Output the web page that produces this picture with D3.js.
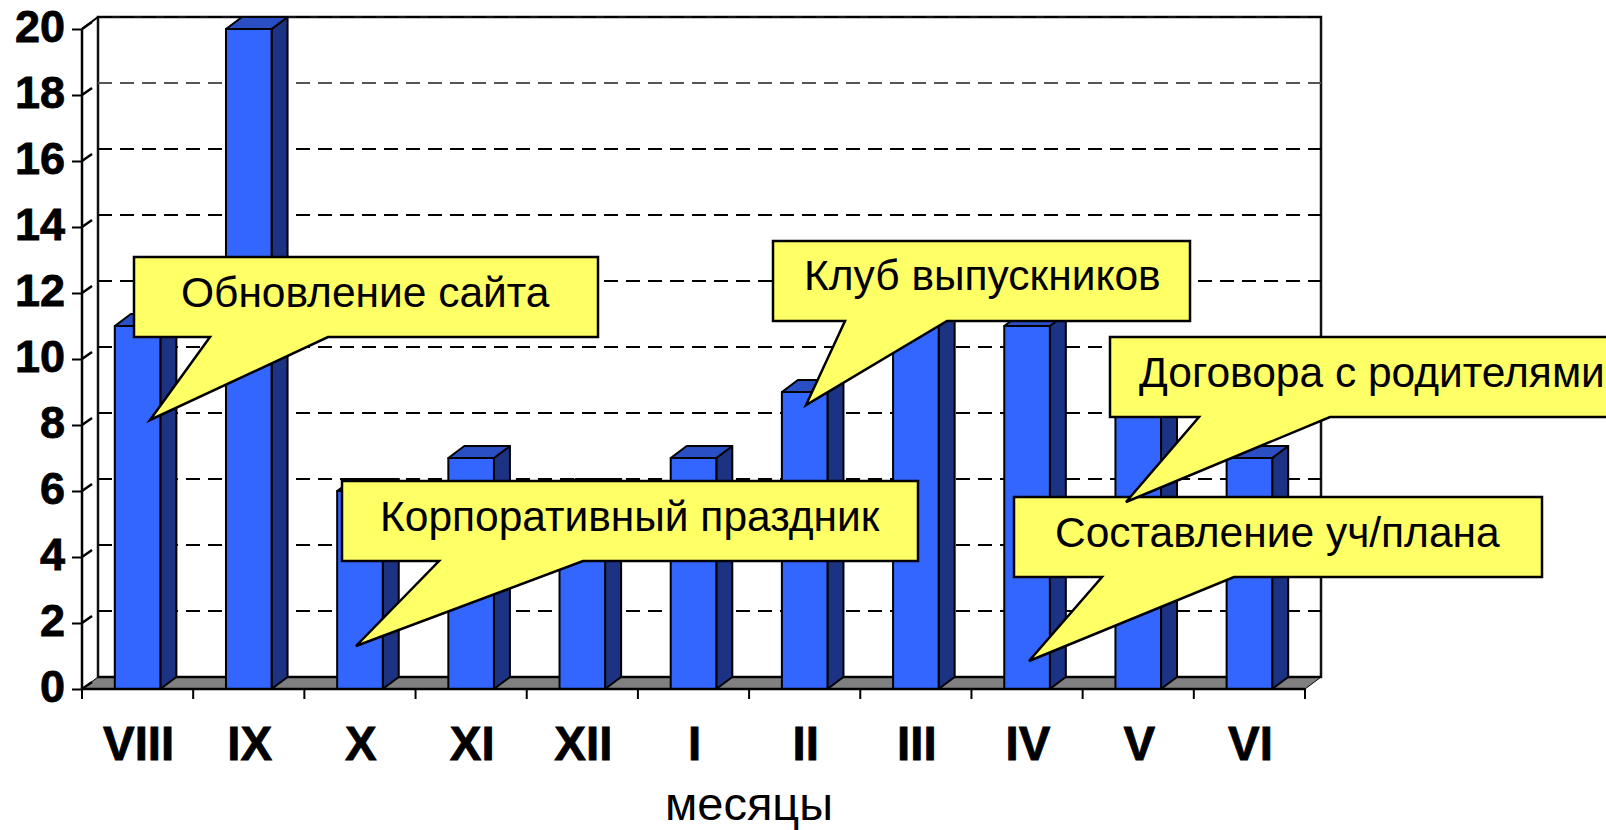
<!DOCTYPE html>
<html>
<head>
<meta charset="utf-8">
<script src="https://cdn.jsdelivr.net/npm/d3@7"></script>
<style>
    html, body { margin: 0; padding: 0; background: #fff; overflow: hidden; }
    text { font-family: "Liberation Sans", Arial, sans-serif; fill: #000; }
    .axis path { display: none; }
    .axis text { font-weight: bold; stroke: #000; stroke-width: 0.8; }
    .axis--y text { font-size: 45px; }
    .axis--x text { font-size: 47.5px; }
    .axis line { stroke: #000; stroke-width: 2; }
    .callout path { fill: #ffff66; stroke: #000; stroke-width: 2.5; stroke-linejoin: miter; }
    .callout text { font-size: 42.5px; }
</style>
</head>
<body>
<div id="chart"></div>
<script>
"use strict";

var months = ["VIII", "IX", "X", "XI", "XII", "I", "II", "III", "IV", "V", "VI"];
var counts = [11, 20, 6, 7, 6, 7, 9, 11, 11, 9, 7];
var yTicks = [0, 2, 4, 6, 8, 10, 12, 14, 16, 18, 20];
var axisTitle = "месяцы";
var notes = ["Обновление сайта", "Клуб выпускников", "Корпоративный праздник", "Составление уч/плана", "Договора с родителями"];

var width = 1606, height = 830;
var depth = { x: 16, y: 12 };

var x = d3.scaleBand()
    .domain(months)
    .range([82, 1305])
    .paddingInner(0.59)
    .paddingOuter(0.295);

var y = d3.scaleLinear()
    .domain([0, 20])
    .range([689, 29]);

var svg = d3.select("#chart")
    .append("svg")
    .attr("width", width)
    .attr("height", height);

var line = d3.line();

// back wall and floor
var x0 = x.range()[0], x1 = x.range()[1], y0 = y(0), yTop = y(20);

svg.append("path")
    .attr("d", line([[x0, y0], [x0 + depth.x, y0 - depth.y], [x1 + depth.x, y0 - depth.y], [x1, y0]]) + "Z")
    .attr("fill", "#808080")
    .attr("stroke", "#000")
    .attr("stroke-width", 1);

svg.append("rect")
    .attr("x", x0 + depth.x)
    .attr("y", yTop - depth.y)
    .attr("width", x1 - x0)
    .attr("height", y0 - yTop)
    .attr("fill", "#fff")
    .attr("stroke", "#111")
    .attr("stroke-width", 2.5);

svg.append("g")
    .selectAll("line")
    .data(yTicks.filter(d => d > 0))
    .enter()
    .append("line")
    .attr("x1", x0 + depth.x)
    .attr("x2", x1 + depth.x)
    .attr("y1", d => y(d) - depth.y)
    .attr("y2", d => y(d) - depth.y)
    .attr("stroke", (d, i) => d == 18 ? "#555" : "#000")
    .attr("stroke-width", 2)
    .attr("stroke-dasharray", "14,8");

svg.append("line")
    .attr("x1", x0 + depth.x).attr("x2", x1 + depth.x)
    .attr("y1", y0 - depth.y).attr("y2", y0 - depth.y)
    .attr("stroke", "#000")
    .attr("stroke-width", 2);

// bars
var bars = svg.selectAll(".bar")
    .data(months.map((m, i) => ({ month: m, value: counts[i] })))
    .enter()
    .append("g")
    .attr("class", "bar")
    .attr("stroke", "#000")
    .attr("stroke-width", 2)
    .attr("stroke-linejoin", "round");

bars.append("path")
    .attr("fill", "#1c3282")
    .attr("d", function(d) {
        var r = x(d.month) + x.bandwidth();
        return line([[r, y(d.value)], [r + depth.x, y(d.value) - depth.y], [r + depth.x, y0 - depth.y], [r, y0]]) + "Z";
    });

bars.append("path")
    .attr("fill", "#2a4fc4")
    .attr("d", function(d) {
        var l = x(d.month), r = l + x.bandwidth(), t = y(d.value);
        return line([[l, t], [l + depth.x, t - depth.y], [r + depth.x, t - depth.y], [r, t]]) + "Z";
    });

bars.append("rect")
    .attr("fill", "#3366ff")
    .attr("x", d => x(d.month))
    .attr("y", d => y(d.value))
    .attr("width", x.bandwidth())
    .attr("height", d => y0 - y(d.value));

// axes
var yAxis = svg.append("g")
    .attr("class", "axis axis--y")
    .attr("transform", "translate(" + x0 + ",0)")
    .call(d3.axisLeft(y).tickValues(yTicks).tickSize(10).tickPadding(7));

yAxis.selectAll(".tick text").attr("y", -2);

svg.append("line")
    .attr("x1", x0).attr("x2", x0)
    .attr("y1", yTop).attr("y2", y0)
    .attr("stroke", "#000").attr("stroke-width", 2.5);

svg.append("line")
    .attr("x1", x0).attr("x2", x1)
    .attr("y1", y0).attr("y2", y0)
    .attr("stroke", "#000").attr("stroke-width", 2.5);

svg.append("g")
    .selectAll("line")
    .data(yTicks)
    .enter()
    .append("line")
    .attr("x1", x0)
    .attr("x2", x0 + 10)
    .attr("y1", d => y(d))
    .attr("y2", d => y(d) - 7)
    .attr("stroke", "#000")
    .attr("stroke-width", 2.5);

svg.append("line")
    .attr("x1", x0).attr("x2", x0 + depth.x)
    .attr("y1", yTop).attr("y2", yTop - depth.y)
    .attr("stroke", "#000").attr("stroke-width", 2);

var xAxis = svg.append("g")
    .attr("class", "axis axis--x")
    .attr("transform", "translate(1," + y0 + ")")
    .call(d3.axisBottom(x).tickSize(0).tickPadding(37));

xAxis.selectAll(".tick text").attr("dy", "0.71em");

svg.append("g")
    .selectAll("line")
    .data(d3.range(months.length + 1))
    .enter()
    .append("line")
    .attr("x1", i => x0 + i * x.step())
    .attr("x2", i => x0 + i * x.step())
    .attr("y1", y0)
    .attr("y2", y0 + 10)
    .attr("stroke", "#000")
    .attr("stroke-width", 2);

svg.append("text")
    .attr("x", 749)
    .attr("y", 820)
    .attr("text-anchor", "middle")
    .attr("font-size", 47)
    .text(axisTitle);

// callouts, in drawing order
function callout(label, box, tail, tip, textX, textY) {
    var g = svg.append("g").attr("class", "callout");
    g.append("path").attr("d", line([
        [box[0], box[1]], [box[2], box[1]], [box[2], box[3]],
        [tail[1], box[3]], tip, [tail[0], box[3]], [box[0], box[3]]
    ]) + "Z");
    g.append("text").attr("x", textX).attr("y", textY).text(label);
}

callout(notes[0], [134, 257, 598, 337], [210, 328], [150, 420], 181, 307);
callout(notes[1], [773, 241, 1190, 321], [845, 947], [806, 405], 804, 290);
callout(notes[2], [342, 481, 918, 561], [439, 583], [356, 646], 380, 531);
callout(notes[3], [1014, 497, 1542, 577], [1102, 1234], [1029, 661], 1055, 547);
callout(notes[4], [1110, 337, 1640, 417], [1199, 1330], [1126, 502], 1139, 387);
</script>
</body>
</html>
